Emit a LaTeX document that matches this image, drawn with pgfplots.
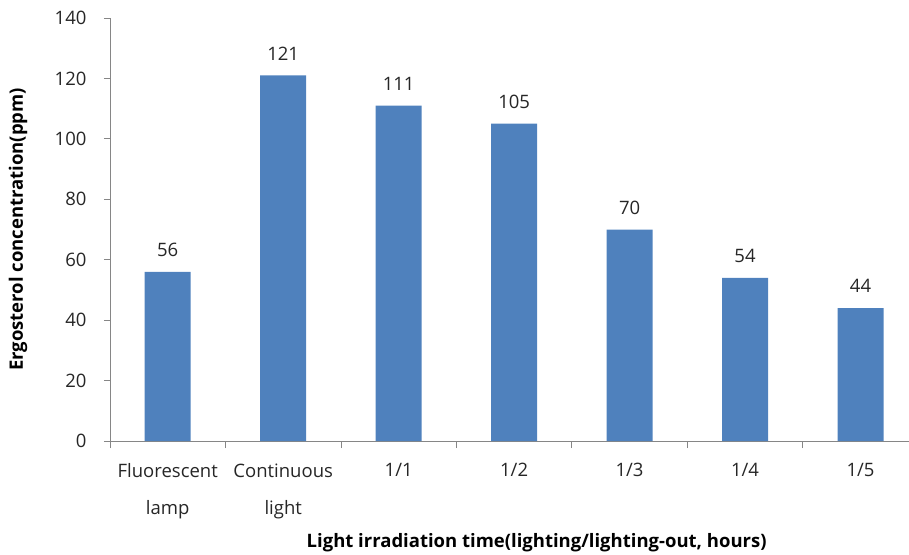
\documentclass[border=0pt]{standalone}
\usepackage{pgfplots}
\pgfplotsset{compat=1.18}
\usepackage{fontspec}
\setmainfont{Open Sans}
\definecolor{barblue}{HTML}{4F81BD}
\definecolor{axgray}{HTML}{868686}
\begin{document}
\begin{tikzpicture}
\begin{axis}[
  scale only axis,
  width=799pt, height=423pt,
  xmin=-0.5, xmax=6.42,
  ymin=0, ymax=140,
  ytick={0,20,...,140},
  xtick={0,...,6},
  xticklabels={{Fluorescent\\lamp},{Continuous\\light},1/1,1/2,1/3,1/4,1/5},
  minor xtick={-0.5,0.5,...,5.5},
  axis x line*=bottom,
  axis y line*=left,
  axis line style={draw=axgray, line width=0.8pt, -},
  tick align=outside,
  major tick length=6pt,
  minor tick length=7pt,
  x tick style={draw=none},
  minor x tick style={draw=axgray, line width=0.8pt},
  y tick style={draw=axgray, line width=0.8pt},
  tick label style={font=\fontsize{18.5}{37}\selectfont, text=black!85},
  /pgf/number format/assume math mode=true,
  x tick label style={align=center, anchor=north, yshift=-13pt},
  y tick label style={anchor=east, xshift=-14pt},
  xlabel={\bfseries Light irradiation time(lighting/lighting-out, hours)},
  ylabel={\bfseries Ergosterol concentration(ppm)},
  xlabel style={at={(axis description cs:0.534,0)}, anchor=center, yshift=-102pt, font=\fontsize{18.5}{20}\selectfont, text=black},
  ylabel style={at={(axis description cs:0,0.5)}, anchor=center, yshift=92pt, font=\fontsize{18.5}{20}\selectfont, text=black},
  ybar, bar width=46pt,
  nodes near coords,
  every node near coord/.append style={anchor=center, yshift=22pt, font=\fontsize{18.5}{20}\selectfont, text=black!85},
  clip=false,
]
\addplot[fill=barblue, draw=none] coordinates {(0,56) (1,121) (2,111) (3,105) (4,70) (5,54) (6,44)};
\end{axis}
\pgfresetboundingbox
\path (-110pt,-113pt) rectangle (799pt,441pt);
\end{tikzpicture}
\end{document}
